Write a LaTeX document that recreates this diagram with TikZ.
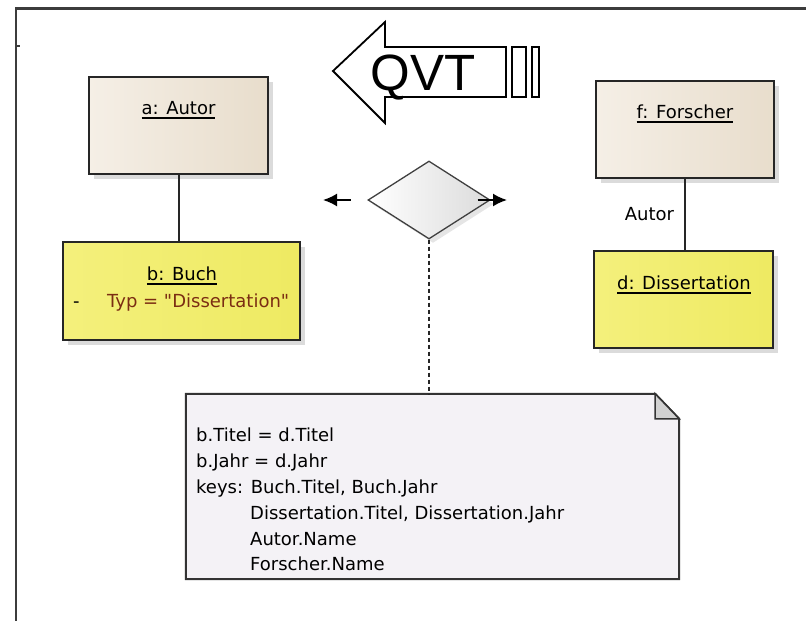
\documentclass[tikz,border=0pt]{standalone}
\usepackage{fontspec}
\setmainfont{DejaVu Sans}
\newfontfamily\qvtfont{Liberation Sans}
\usetikzlibrary{
	shapes,
	shapes.geometric,
	shadows,
	calc,
	arrows.meta}

\definecolor{beigeL}{HTML}{F5EFE6}
\definecolor{beigeM}{HTML}{FAF6EE}
\definecolor{beigeR}{HTML}{E8DDCC}
\definecolor{yelL}{HTML}{F4F07C}
\definecolor{yelM}{HTML}{F9F7A8}
\definecolor{yelR}{HTML}{EEEA62}
\definecolor{notebg}{HTML}{F4F2F6}
\definecolor{typred}{HTML}{7B2D12}
\definecolor{framegray}{HTML}{3C3C3C}

\newcommand{\objname}[1]{\setbox0\hbox{#1}\rlap{\rule[-5pt]{\wd0}{2pt}}\box0}

\tikzset{
  objbox/.style={draw=black!85, line width=2pt, inner sep=0pt,
    drop shadow={shadow xshift=5pt, shadow yshift=-5pt, fill=black!28}},
  beigebox/.style={objbox, left color=beigeL, middle color=beigeM, right color=beigeR},
  yellowbox/.style={objbox, left color=yelL, middle color=yelM, right color=yelR},
  txt/.style={inner sep=0pt, font=\fontsize{18}{25.8}\selectfont},
  link/.style={line width=2pt, draw=black!85},
  frame/.style={line width=2.2pt, draw=framegray},
}

\begin{document}
\begin{tikzpicture}[x=1pt, y=-1pt, >={Latex[length=14pt,width=13pt]}]
      \useasboundingbox (0,0) rectangle (806,621);

      % frame
      \draw [frame] (16,621) -- (16,8.5) -- (806,8.5);
      \draw [frame] (16,46) -- (20,46);

      % QVT arrow
      \draw [line width=1.8pt] (333,71) -- (385,22) -- (385,47) -- (506,47)
        -- (506,97) -- (385,97) -- (385,123) -- cycle;
      \draw [line width=1.8pt] (512,47) rectangle (526,97);
      \draw [line width=1.8pt] (532,47) rectangle (539,97);
      \node [inner sep=0pt, anchor=base, font=\qvtfont\fontsize{51}{51}\selectfont] (QVT) at (423,90) {QVT};

      % left side
      \node [beigebox, minimum width=179pt, minimum height=97pt] (AU0) at (178.5,125.5) {};
      \node [txt, anchor=base] (AU1) at (178.5,114) {\objname{a: Autor}};

      \node [yellowbox, minimum width=237pt, minimum height=98pt] (BU0) at (181.5,291) {};
      \node [txt, anchor=base] (BU1) at (182,280) {\objname{b: Buch}};
      \node [txt, anchor=base west] (BU2) at (73,307) {-};
      \node [txt, anchor=base west, text=typred] (BU3) at (107,307) {Typ = \textquotedbl Dissertation\textquotedbl};

      % right side
      \node [beigebox, minimum width=178pt, minimum height=97pt] (FO0) at (685,129.5) {};
      \node [txt, anchor=base] (FO1) at (685,118) {\objname{f: Forscher}};

      \node [yellowbox, minimum width=179pt, minimum height=97pt] (DI0) at (683.5,299.5) {};
      \node [txt, anchor=base] (DI1) at (684,289) {\objname{d: Dissertation}};

      % relation
      \node [diamond, draw=black!75, line width=1.3pt, inner sep=0pt,
        minimum width=122pt, minimum height=78pt,
        left color=white, middle color=white, right color=black!14,
        drop shadow={shadow xshift=4pt, shadow yshift=-4pt, fill=black!20}] (RL) at (429,200) {};
      \coordinate (LT) at (323,200);
      \coordinate (RT) at (507,200);

      % note
      \node [minimum width=493pt, minimum height=185pt, inner sep=0pt] (NT) at (432.5,486.5) {};
      \filldraw [fill=notebg, draw=black!80, line width=2pt]
        (NT.north west) -- ($(NT.north east)+(-24,0)$) -- ($(NT.north east)+(0,25)$)
        -- (NT.south east) -- (NT.south west) -- cycle;
      \filldraw [fill=black!18, draw=black!80, line width=1.5pt]
        ($(NT.north east)+(-24,0)$) -- ($(NT.north east)+(-24,25)$) -- ($(NT.north east)+(0,25)$) -- cycle;
      \node [txt, align=left, anchor=north west] (NT1) at (196,428)
        {b.Titel = d.Titel\\
         b.Jahr = d.Jahr\\
         keys: Buch.Titel, Buch.Jahr\\
         \hspace*{54pt}Dissertation.Titel, Dissertation.Jahr\\
         \hspace*{54pt}Autor.Name\\
         \hspace*{54pt}Forscher.Name};

      \draw [link]             (AU0.south) to (AU0.south |- BU0.north);
      \draw [link]             (FO0.south) to node [txt, left=10pt] (ROLE) {Autor} (FO0.south |- DI0.north);
      \draw [<-, line width=1.8pt] (LT) to ([xshift=-16pt]RL.west);
      \draw [->, line width=1.8pt] ([xshift=-13pt]RL.east) to (RT);
      \draw [link, dash pattern=on 4pt off 3pt] (RL.south) to (RL.south |- NT.north);
  \end{tikzpicture}
\end{document}
